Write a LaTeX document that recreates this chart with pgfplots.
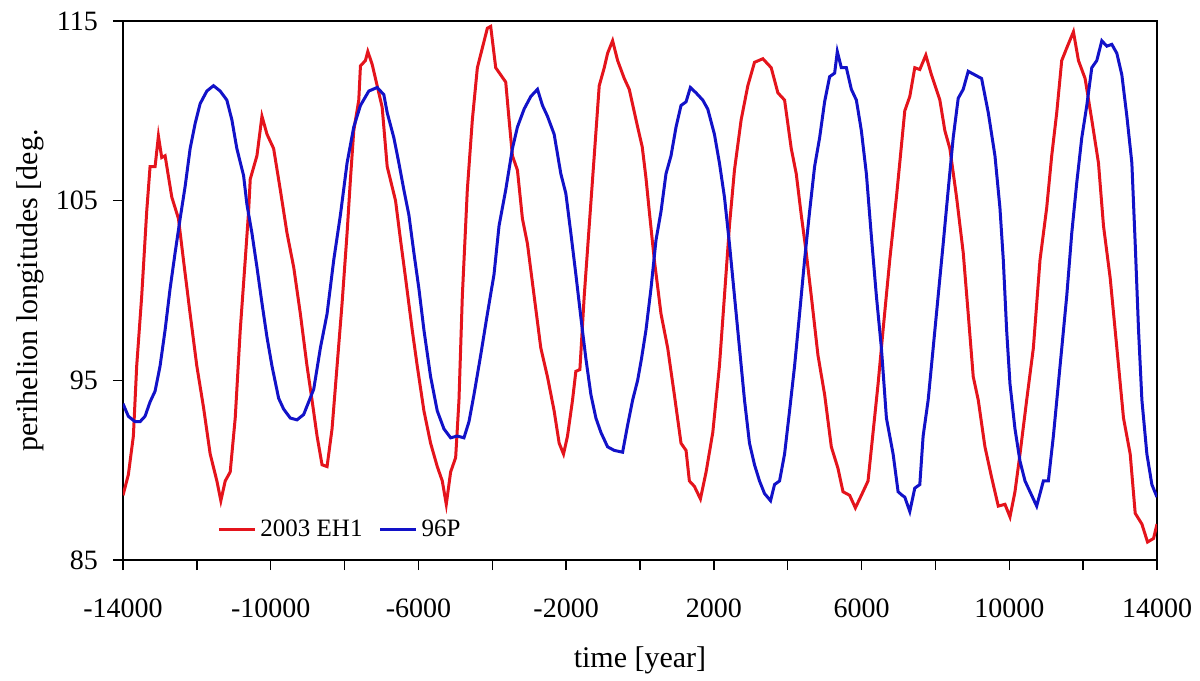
\documentclass[border=0pt]{standalone}
\usepackage{fontspec}
\setmainfont{Liberation Serif}
\usepackage{pgfplots}
\pgfplotsset{compat=1.18}

\definecolor{ehred}{RGB}{228,20,28}
\definecolor{pblue}{RGB}{18,18,200}

\begin{document}
\begin{tikzpicture}
\begin{axis}[
  scale only axis,
  width=517pt, height=269.5pt,
  at={(0,0)}, anchor=south west,
  xmin=-14000, xmax=14000,
  ymin=85, ymax=115,
  scaled x ticks=false, scaled y ticks=false,
  xtick={-14000,-12000,...,14000},
  xticklabels={-14000,,-10000,,-6000,,-2000,,2000,,6000,,10000,,14000},
  ytick={85,95,105,115},
  yticklabels={85,95,105,115},
  tick align=outside,
  major tick length=5pt,
  xtick pos=bottom, ytick pos=left,
  axis line style={line width=0.75pt},
  every tick/.style={black, line width=0.75pt},
  tick label style={font=\fontsize{14}{16}\selectfont},
  xticklabel style={yshift=-11pt},
  yticklabel style={xshift=-4pt},
  xlabel={time [year]},
  ylabel={perihelion longitudes [deg.},
  label style={font=\fontsize{15}{17}\selectfont},
  xlabel style={at={(axis description cs:0.5,-0.1855)}, anchor=center},
  ylabel style={at={(axis description cs:-0.09,0.5)}, anchor=center},
  legend style={draw=none, fill=none, at={(0.091,0.056)}, anchor=west,
    inner sep=0pt, font=\fontsize{12.5}{14}\selectfont,
    /tikz/every even column/.append style={column sep=6pt}},
  legend columns=-1,
  legend image code/.code={\draw[#1,line width=1.5pt] (0pt,0pt) -- (18pt,0pt);},
  clip=true,
]
% 2003 EH1
\addplot[ehred, line width=1.5pt] coordinates {
(-14000,88.6) (-13855,89.75) (-13719,91.9) (-13629,95.8) (-13493,99.7) (-13358,104.4)
(-13267,106.9) (-13131,106.9) (-13041,108.6) (-12951,107.4) (-12860,107.5) (-12679,105.2)
(-12498,104.0) (-12363,101.7) (-12182,98.7) (-12001,95.8) (-11820,93.5) (-11639,90.9)
(-11458,89.4) (-11350,88.3) (-11232,89.4) (-11097,89.9) (-10961,92.9) (-10825,97.8)
(-10690,101.7) (-10599,104.4) (-10554,106.2) (-10373,107.5) (-10237,109.7) (-10101,108.7)
(-9921,107.9) (-9740,105.6) (-9559,103.2) (-9378,101.3) (-9197,98.7) (-9017,95.8)
(-8881,93.9) (-8745,91.9) (-8610,90.3) (-8474,90.2) (-8339,92.3) (-8203,95.8)
(-8067,99.3) (-7932,103.2) (-7841,106.2) (-7751,108.9) (-7615,110.6) (-7570,112.5)
(-7435,112.8) (-7371,113.3) (-7254,112.6) (-7118,111.4) (-6982,110.2) (-6846,106.9)
(-6620,105.0) (-6484,102.8) (-6349,100.7) (-6168,97.8) (-6032,95.8) (-5851,93.3)
(-5670,91.5) (-5490,90.2) (-5354,89.4) (-5246,88.1) (-5128,89.9) (-4992,90.7)
(-4902,93.9) (-4811,99.7) (-4676,105.6) (-4540,109.5) (-4404,112.4) (-4269,113.5)
(-4133,114.6) (-4043,114.7) (-3907,112.4) (-3636,111.6) (-3545,109.5) (-3455,107.5)
(-3319,106.7) (-3184,104.0) (-3048,102.6) (-2867,99.7) (-2686,96.8) (-2506,95.2)
(-2325,93.3) (-2189,91.5) (-2071,90.9) (-1963,91.9) (-1827,93.9) (-1737,95.5)
(-1628,95.6) (-1510,99.7) (-1375,103.6) (-1239,107.5) (-1104,111.4) (-968,112.4)
(-878,113.2) (-742,113.9) (-606,112.8) (-426,111.8) (-291,111.2) (-64,109.1)
(60,108.0) (160,106.3) (252,104.4) (388,101.7) (569,98.7) (750,96.8)
(930,94.2) (1111,91.5) (1247,91.1) (1337,89.4) (1473,89.1) (1636,88.4)
(1790,89.9) (1971,92.1) (2151,95.8) (2287,99.7) (2422,103.6) (2558,106.7)
(2739,109.5) (2920,111.4) (3101,112.7) (3327,112.9) (3553,112.4) (3734,111.0)
(3915,110.6) (4096,107.9) (4231,106.5) (4367,104.2) (4502,102.1) (4638,99.7)
(4819,96.4) (5000,94.2) (5181,91.3) (5361,90.1) (5497,88.8) (5678,88.6)
(5832,87.9) (5994,88.6) (6175,89.4) (6311,92.1) (6447,94.8) (6582,97.8)
(6763,101.7) (6944,105.2) (7034,107.1) (7170,110.0) (7306,110.8) (7441,112.4)
(7577,112.3) (7740,113.1) (7893,112.0) (8120,110.6) (8255,108.9) (8391,107.9)
(8572,105.2) (8753,102.1) (8888,98.7) (9024,95.2) (9160,93.9) (9341,91.3)
(9521,89.6) (9702,88.0) (9883,88.1) (10019,87.4) (10154,88.8) (10290,90.9)
(10471,93.9) (10652,96.8) (10832,101.7) (11013,104.6) (11149,107.5) (11285,109.9)
(11420,112.8) (11556,113.5) (11737,114.4) (11873,112.8) (12053,111.8) (12234,109.5)
(12415,107.1) (12551,103.6) (12732,100.7) (12913,96.8) (13093,92.9) (13274,90.9)
(13410,87.6) (13591,87.0) (13744,86.0) (13907,86.2) (14000,87.0)
};
\addlegendentry{2003 EH1}
% 96P
\addplot[pblue, line width=1.5pt] coordinates {
(-14000,93.7) (-13855,93.0) (-13674,92.7) (-13538,92.7) (-13403,93.0) (-13267,93.8)
(-13131,94.4) (-12996,95.8) (-12860,97.8) (-12725,100.1) (-12589,102.1) (-12453,104.0)
(-12317,105.8) (-12182,107.9) (-12046,109.3) (-11911,110.4) (-11730,111.1) (-11549,111.4)
(-11368,111.1) (-11188,110.6) (-11052,109.5) (-10917,107.9) (-10735,106.4) (-10645,104.8)
(-10509,103.2) (-10373,101.3) (-10237,99.3) (-10101,97.4) (-9966,95.8) (-9785,94.0)
(-9650,93.4) (-9469,92.9) (-9288,92.8) (-9107,93.1) (-8972,93.8) (-8836,94.5)
(-8655,96.8) (-8474,98.7) (-8293,101.7) (-8113,104.2) (-7932,107.1) (-7751,109.1)
(-7570,110.3) (-7344,111.1) (-7118,111.3) (-6937,110.9) (-6846,109.9) (-6665,108.5)
(-6530,107.1) (-6394,105.6) (-6258,104.2) (-6123,102.1) (-5987,100.1) (-5851,97.8)
(-5670,95.2) (-5490,93.3) (-5309,92.3) (-5128,91.8) (-4947,91.9) (-4767,91.8)
(-4631,92.7) (-4496,94.2) (-4314,96.4) (-4133,98.7) (-3953,100.9) (-3817,103.6)
(-3636,105.6) (-3455,107.9) (-3319,109.1) (-3138,110.1) (-2957,110.8) (-2776,111.2)
(-2641,110.3) (-2506,109.7) (-2325,108.7) (-2144,106.5) (-2008,105.4) (-1873,103.2)
(-1737,100.9) (-1601,98.5) (-1465,96.2) (-1329,94.2) (-1194,92.9) (-1058,92.1)
(-878,91.3) (-697,91.1) (-471,91.0) (-336,92.5) (-200,93.9) (-64,95.0)
(40,96.2) (162,97.8) (297,100.1) (433,102.8) (569,104.4) (704,106.5)
(840,107.5) (976,109.1) (1111,110.3) (1247,110.5) (1364,111.3) (1518,111.0)
(1699,110.6) (1835,110.1) (2015,108.7) (2151,107.1) (2287,105.2) (2422,102.6)
(2558,99.7) (2694,96.8) (2830,93.9) (2965,91.5) (3101,90.3) (3236,89.4)
(3372,88.7) (3535,88.3) (3643,89.2) (3779,89.4) (3915,90.9) (4050,93.3)
(4186,95.8) (4321,98.7) (4457,101.7) (4593,104.4) (4728,106.9) (4864,108.5)
(4999,110.5) (5135,111.9) (5271,112.1) (5343,113.3) (5452,112.4) (5588,112.4)
(5723,111.2) (5859,110.6) (5994,108.9) (6130,106.5) (6266,103.0) (6401,99.7)
(6537,96.8) (6673,92.9) (6854,90.9) (6989,88.8) (7100,88.6) (7170,88.5)
(7306,87.7) (7441,89.0) (7577,89.2) (7667,91.9) (7803,93.9) (7939,96.8)
(8074,99.7) (8210,102.6) (8346,105.6) (8481,108.5) (8617,110.7) (8753,111.2)
(8888,112.2) (9069,112.0) (9250,111.8) (9431,109.9) (9612,107.5) (9747,104.6)
(9838,101.7) (9928,97.8) (10019,94.8) (10154,92.3) (10290,90.5) (10426,89.4)
(10561,88.8) (10742,88.0) (10923,89.4) (11058,89.4) (11194,91.9) (11375,95.8)
(11556,99.7) (11692,103.2) (11827,106.0) (11963,108.5) (12099,110.3) (12234,112.4)
(12370,112.8) (12506,113.9) (12641,113.6) (12777,113.7) (12913,113.2) (13048,112.0)
(13184,109.7) (13319,107.1) (13410,102.6) (13500,97.8) (13591,93.9) (13726,90.9)
(13861,89.2) (14000,88.5)
};
\addlegendentry{96P}
\end{axis}
\useasboundingbox (-61.5pt,-60pt) rectangle (538.5pt,280pt);
\end{tikzpicture}
\end{document}
